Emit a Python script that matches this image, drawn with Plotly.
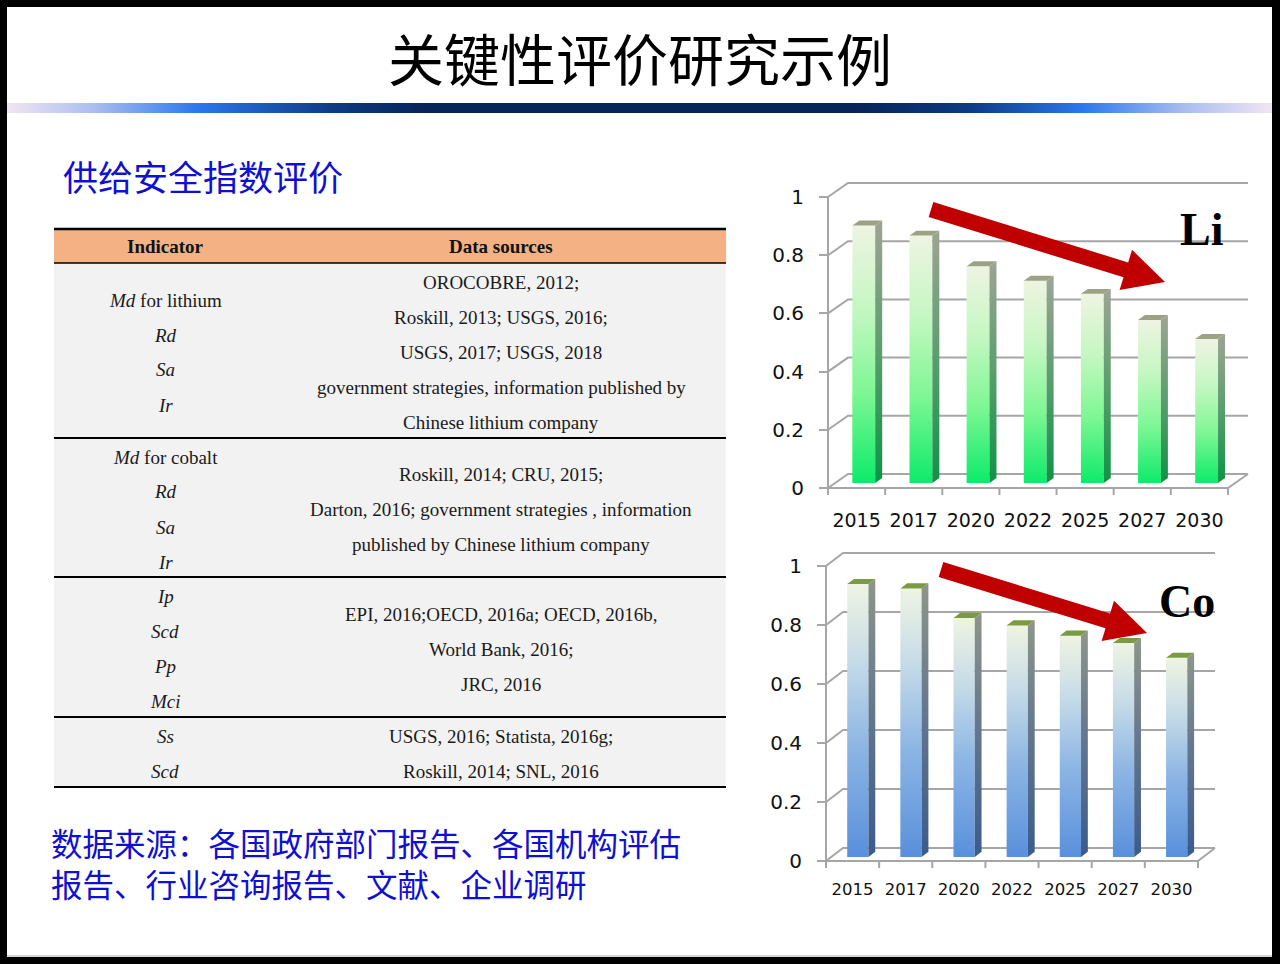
import math
import plotly.graph_objects as go

W, H = 1280, 964

# ---------------- data ----------------
years = ["2015", "2017", "2020", "2022", "2025", "2027", "2030"]
li_values = [0.885, 0.85, 0.745, 0.695, 0.65, 0.56, 0.495]
co_values = [0.925, 0.91, 0.81, 0.785, 0.75, 0.725, 0.675]
y_ticks = [0, 0.2, 0.4, 0.6, 0.8, 1]
y_tick_labels = ["0", "0.2", "0.4", "0.6", "0.8", "1"]

title_text = "关键性评价研究示例"
subtitle_text = "供给安全指数评价"
source_lines = ["数据来源：各国政府部门报告、各国机构评估",
                "报告、行业咨询报告、文献、企业调研"]
table_headers = ["Indicator", "Data sources"]
table_indicators = [
    ["<i>Md</i> for lithium", "<i>Rd</i>", "<i>Sa</i>", "<i>Ir</i>"],
    ["<i>Md</i> for cobalt", "<i>Rd</i>", "<i>Sa</i>", "<i>Ir</i>"],
    ["<i>Ip</i>", "<i>Scd</i>", "<i>Pp</i>", "<i>Mci</i>"],
    ["<i>Ss</i>", "<i>Scd</i>"],
]
table_sources = [
    ["OROCOBRE, 2012;", "Roskill, 2013; USGS, 2016;", "USGS, 2017; USGS, 2018",
     "government strategies, information published by", "Chinese lithium company"],
    ["Roskill, 2014; CRU, 2015;", "Darton, 2016; government strategies , information",
     "published by Chinese lithium company"],
    ["EPI, 2016;OECD, 2016a; OECD, 2016b,", "World Bank, 2016;", "JRC, 2016"],
    ["USGS, 2016; Statista, 2016g;", "Roskill, 2014; SNL, 2016"],
]
chart_labels = ["Li", "Co"]

# ---------------- layout helpers ----------------
def px(x):
    return x / W


def py(y):
    return 1 - y / H


fig = go.Figure()
shapes = []
annotations = []

# slide background
shapes.append(dict(type="rect", xref="paper", yref="paper", x0=px(7), x1=px(1272),
                   y0=py(957), y1=py(7), fillcolor="white", line_width=0, layer="below"))
shapes.append(dict(type="line", xref="paper", yref="paper", x0=px(7), x1=px(1272),
                   y0=py(956), y1=py(956), line=dict(color="#c8c8c8", width=1.5), layer="below"))

# ---------------- header gradient bar (overlay axis) ----------------
fig.add_trace(go.Scatter(
    x=[0, 1, 1, 0, 0], y=[0, 0, 1, 1, 0], mode="lines", fill="toself",
    line=dict(width=0), hoverinfo="skip", showlegend=False,
    fillgradient=dict(type="horizontal", start=0, stop=1, colorscale=[
        [0.0, "#f1e6f4"], [0.07, "#a9bdf0"], [0.15, "#2a78ee"], [0.26, "#0c3a82"],
        [0.33, "#062459"], [0.67, "#062459"], [0.76, "#0c3a82"], [0.85, "#2a78ee"],
        [0.93, "#a9bdf0"], [1.0, "#f1e6f4"]]),
    xaxis="x3", yaxis="y3"))

# ---------------- 3D-style bar charts ----------------
charts = [
    dict(values=li_values, xa="x", ya="y", x0=828, ppc=57.14, y0=488, ppu=291, dx=20, dy=14,
         d1=0.36, d2=0.71, bw=0.40, xfont=19, xstand=7,
         front=[[0, "#0ceb6a"], [0.35, "#7ef794"], [0.68, "#c6f7c2"], [1, "#eef4e2"]],
         side=[[0, "#0e9346"], [0.5, "#5a9e6e"], [1, "#9ea494"]], top="#9ca284"),
    dict(values=co_values, xa="x2", ya="y2", x0=826, ppc=53.14, y0=861, ppu=295, dx=17, dy=13,
         d1=0.31, d2=0.71, bw=0.40, xfont=16.5, xstand=5,
         front=[[0, "#5990dc"], [0.4, "#8cb5e4"], [0.72, "#c6dbe8"], [1, "#eef4e2"]],
         side=[[0, "#3a5b8b"], [0.55, "#66788e"], [1, "#8e958a"]], top="#7a9a44"),
]

grid_color = "#a6a6a6"
layout_axes = {}
for ci, c in enumerate(charts):
    Dx = c["dx"] / c["ppc"]
    Dy = c["dy"] / c["ppu"]
    n = len(c["values"])
    xr = [-0.5 - 0.15, n - 0.5 + Dx + 0.05]
    yr = [-0.04, 1 + Dy + 0.012]
    dom_x = [px(c["x0"] + (xr[0] + 0.5) * c["ppc"]), px(c["x0"] + (xr[1] + 0.5) * c["ppc"])]
    dom_y = [py(c["y0"] - yr[0] * c["ppu"]), py(c["y0"] - yr[1] * c["ppu"])]

    # back wall gridlines + side wall diagonals
    gx, gy = [], []
    for t in y_ticks:
        gx += [-0.5, -0.5 + Dx, n - 0.5 + Dx, None]
        gy += [t, t + Dy, t + Dy, None]
    # floor front / right edges
    gx += [-0.5, n - 0.5, n - 0.5 + Dx, None]
    gy += [0, 0, Dy, None]
    # front vertical axis
    gx += [-0.5, -0.5, None]
    gy += [0, 1, None]
    # category boundary ticks
    for k in range(n + 1):
        gx += [-0.5 + k, -0.5 + k, None]
        gy += [0, -0.024, None]
    fig.add_trace(go.Scatter(x=gx, y=gy, mode="lines", line=dict(color=grid_color, width=2),
                             hoverinfo="skip", showlegend=False, xaxis=c["xa"], yaxis=c["ya"]))

    d1, d2, bw = c["d1"], c["d2"], c["bw"]
    for i, v in enumerate(c["values"]):
        xl, xrr = i - bw / 2, i + bw / 2
        b1, b2 = d1 * Dy, d2 * Dy
        o1, o2 = d1 * Dx, d2 * Dx
        # front face
        fig.add_trace(go.Scatter(
            x=[xl + o1, xrr + o1, xrr + o1, xl + o1, xl + o1],
            y=[b1, b1, b1 + v, b1 + v, b1],
            mode="lines", fill="toself", line=dict(width=0), hoverinfo="skip", showlegend=False,
            fillgradient=dict(type="vertical", start=b1, stop=b1 + v, colorscale=c["front"]),
            xaxis=c["xa"], yaxis=c["ya"]))
        # side face
        fig.add_trace(go.Scatter(
            x=[xrr + o1, xrr + o2, xrr + o2, xrr + o1, xrr + o1],
            y=[b1, b2, b2 + v, b1 + v, b1],
            mode="lines", fill="toself", line=dict(width=0), hoverinfo="skip", showlegend=False,
            fillgradient=dict(type="vertical", start=b1, stop=b2 + v, colorscale=c["side"]),
            xaxis=c["xa"], yaxis=c["ya"]))
        # top face
        fig.add_trace(go.Scatter(
            x=[xl + o1, xrr + o1, xrr + o2, xl + o2, xl + o1],
            y=[b1 + v, b1 + v, b2 + v, b2 + v, b1 + v],
            mode="lines", fill="toself", fillcolor=c["top"], line=dict(width=0),
            hoverinfo="skip", showlegend=False, xaxis=c["xa"], yaxis=c["ya"]))

    xkey = "xaxis" if ci == 0 else "xaxis2"
    ykey = "yaxis" if ci == 0 else "yaxis2"
    layout_axes[xkey] = dict(domain=dom_x, range=xr, anchor=c["ya"], showgrid=False,
                             zeroline=False, showline=False, ticks="",
                             tickmode="array", tickvals=list(range(n)), ticktext=years,
                             tickfont=dict(family="DejaVu Sans", size=c["xfont"], color="#111"),
                             ticklabelstandoff=c["xstand"], fixedrange=True)
    layout_axes[ykey] = dict(domain=dom_y, range=yr, anchor="free", position=px(c["x0"]),
                             showgrid=False, zeroline=False, showline=False,
                             ticks="outside", ticklen=9, tickwidth=2, tickcolor=grid_color,
                             tickmode="array", tickvals=y_ticks, ticktext=y_tick_labels,
                             tickfont=dict(family="DejaVu Sans", size=20, color="#111"),
                             ticklabelstandoff=11, fixedrange=True)

# ---------------- arrows ----------------
def arrow_path(tail, tip, hw=7.8, hl=41, hh=21):
    ux, uy = tip[0] - tail[0], tip[1] - tail[1]
    L = math.hypot(ux, uy)
    ux, uy = ux / L, uy / L
    nx, ny = -uy, ux
    bx, by = tip[0] - ux * hl, tip[1] - uy * hl
    pts = [(tail[0] + nx * hw, tail[1] + ny * hw), (bx + nx * hw, by + ny * hw),
           (bx + nx * hh, by + ny * hh), tip, (bx - nx * hh, by - ny * hh),
           (bx - nx * hw, by - ny * hw), (tail[0] - nx * hw, tail[1] - ny * hw)]
    return "M " + " L ".join(f"{px(x):.5f},{py(y):.5f}" for x, y in pts) + " Z"


for tail, tip in [((931, 209.5), (1165, 282)), ((941, 569.5), (1147, 633))]:
    shapes.append(dict(type="path", xref="paper", yref="paper", path=arrow_path(tail, tip),
                       fillcolor="#c00000", line=dict(width=0), layer="above"))

for lab, (cx, cy) in zip(chart_labels, [(1202, 229), (1187, 601)]):
    annotations.append(dict(text=f"<b>{lab}</b>", x=px(cx), y=py(cy), xref="paper", yref="paper",
                            showarrow=False, xanchor="center", yanchor="middle",
                            font=dict(family="Liberation Serif", size=46, color="black")))

# ---------------- title & texts ----------------
annotations.append(dict(text=title_text, x=px(640), y=py(56), xref="paper", yref="paper",
                        showarrow=False, xanchor="center", yanchor="middle",
                        font=dict(family="Noto Sans CJK SC", size=56, color="black")))
annotations.append(dict(text=subtitle_text, x=px(61), y=py(175), xref="paper", yref="paper",
                        showarrow=False, xanchor="left", yanchor="middle",
                        font=dict(family="Noto Sans CJK SC", size=35, color="#1010d0")))
annotations.append(dict(text="<br>".join(source_lines), x=px(49), y=py(862),
                        xref="paper", yref="paper", showarrow=False, xanchor="left",
                        yanchor="middle", align="left",
                        font=dict(family="Noto Sans CJK SC", size=31.5, color="#1010d0")))

# ---------------- table ----------------
TL, TR = 54, 726
header_top, header_bot = 229, 263
row_bounds = [263, 438, 577, 717, 787]
col_ind, col_src = 165, 501
line_step = 35

shapes.append(dict(type="rect", xref="paper", yref="paper", x0=px(TL), x1=px(TR),
                   y0=py(header_bot), y1=py(header_top), fillcolor="#f4b183", line_width=0,
                   layer="below"))
shapes.append(dict(type="rect", xref="paper", yref="paper", x0=px(TL), x1=px(TR),
                   y0=py(row_bounds[-1]), y1=py(header_bot), fillcolor="#f2f2f2", line_width=0,
                   layer="below"))
for yy, wd in [(header_top, 2.5), (header_bot, 1.5)] + [(b, 2) for b in row_bounds[1:]]:
    shapes.append(dict(type="line", xref="paper", yref="paper", x0=px(TL), x1=px(TR),
                       y0=py(yy), y1=py(yy), line=dict(color="black", width=wd), layer="below"))

hy = (header_top + header_bot) / 2 + 1
for txt, cx in zip(table_headers, [col_ind, col_src]):
    annotations.append(dict(text=f"<b>{txt}</b>", x=px(cx), y=py(hy), xref="paper", yref="paper",
                            showarrow=False, xanchor="center", yanchor="middle",
                            font=dict(family="Liberation Serif", size=19, color="#111")))

for r in range(len(table_indicators)):
    mid = (row_bounds[r] + row_bounds[r + 1]) / 2 + 2
    for lines, cx in [(table_indicators[r], col_ind), (table_sources[r], col_src)]:
        m = len(lines)
        for j, txt in enumerate(lines):
            yy = mid + (j - (m - 1) / 2) * line_step
            annotations.append(dict(text=txt, x=px(cx), y=py(yy), xref="paper", yref="paper",
                                    showarrow=False, xanchor="center", yanchor="middle",
                                    font=dict(family="Liberation Serif", size=19, color="#1a1a1a")))

fig.update_layout(
    width=W, height=H, margin=dict(l=0, r=0, t=0, b=0),
    paper_bgcolor="black", plot_bgcolor="rgba(0,0,0,0)",
    showlegend=False, shapes=shapes, annotations=annotations,
    xaxis3=dict(domain=[px(7), px(1272)], range=[0, 1], visible=False, anchor="y3", fixedrange=True),
    yaxis3=dict(domain=[py(113), py(103)], range=[0, 1], visible=False, anchor="x3", fixedrange=True),
    **layout_axes,
)

fig.write_html("out.html", config={"displayModeBar": False},
               post_script="document.body.style.margin='0';")
